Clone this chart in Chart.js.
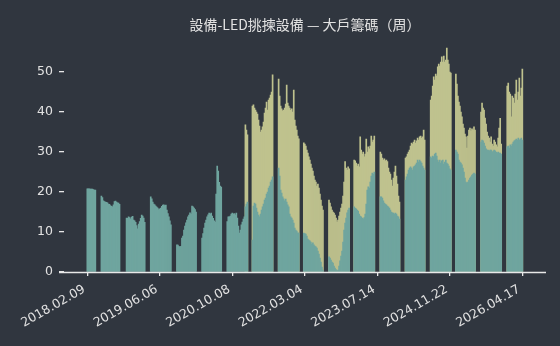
<!DOCTYPE html>
<html>
<head>
<meta charset="utf-8">
<script src="https://cdn.jsdelivr.net/npm/chart.js@4.4.1/dist/chart.umd.min.js"></script>
<style>
html,body{margin:0;padding:0;background:#30363f;}
#wrap{width:560px;height:346px;}
</style>
</head>
<body>
<div id="wrap"><canvas id="c" width="560" height="346"></canvas></div>
<script>
// ---- data ----
const chartTitle = '設備-LED挑揀設備 — 大戶籌碼（周）';
const tickLabels = ['2018.02.09','2019.06.06','2020.10.08','2022.03.04','2023.07.14','2024.11.22','2026.04.17'];
const tickIndex = [0, 72, 144, 216, 288, 360, 432];
const yTicks = [0, 10, 20, 30, 40, 50];

// weekly share of the largest holders (teal), one value per week, null = no data
const bigHolders = [
  20.8,20.8,20.8,20.7,20.7,20.7,20.6,20.5,20.5,
  null,null,null,null,null,
  19.0,18.6,17.8,17.6,17.5,17.4,17.3,17.0,16.9,16.6,16.4,16.3,16.8,17.6,17.7,17.5,17.3,17.2,16.9,
  null,null,null,null,null,null,
  13.5,13.4,13.8,13.6,13.3,13.7,13.9,13.0,12.8,12.4,11.6,10.8,12.0,12.6,13.4,14.2,14.0,13.5,12.4,
  null,null,null,null,null,
  18.8,18.3,17.5,17.0,16.8,16.5,16.2,16.0,15.6,15.8,16.0,16.4,16.7,16.8,16.6,16.7,15.5,14.6,13.8,12.8,11.8,
  null,null,null,null,null,
  6.8,6.7,6.4,6.2,6.4,8.5,9.0,10.5,11.5,12.3,13.0,13.8,14.2,14.8,14.5,16.5,16.3,16.0,15.6,15.0,
  null,null,null,null,null,
  8.5,9.6,11.0,12.2,13.0,13.8,14.3,14.7,14.5,14.7,14.0,13.4,12.8,12.5,19.5,26.5,25.2,22.4,21.5,21.2,
  null,null,null,null,null,
  12.6,13.8,13.8,14.0,14.5,14.7,14.5,14.6,14.3,14.7,13.5,11.5,9.7,10.5,11.8,12.5,13.2,13.8,16.3,17.0,17.5,
  null,null,null,null,
  8.0,16.5,17.2,17.0,16.0,15.0,14.2,13.8,14.5,15.5,16.3,17.0,18.0,18.5,19.5,20.0,21.0,21.5,22.5,23.0,23.8,
  null,null,null,null,null,
  26.0,24.0,20.5,19.7,18.8,18.3,17.8,18.2,17.5,16.8,16.3,14.5,13.8,13.5,13.0,12.2,11.0,10.5,10.2,9.8,9.7,
  null,null,null,null,
  9.7,9.6,9.5,9.0,8.2,8.0,7.8,7.5,7.0,7.3,6.8,6.5,6.3,6.0,5.2,4.5,3.5,2.5,1.2,0.5,
  null,null,null,null,null,
  3.8,3.5,3.0,2.5,2.2,1.5,1.0,0.6,0.3,0.5,1.5,2.8,4.0,5.2,7.5,10.5,12.2,13.5,14.8,15.5,16.0,
  null,null,null,null,
  16.3,16.0,15.8,15.5,15.2,14.5,14.0,13.8,13.5,13.3,13.6,14.5,17.0,20.5,21.3,21.0,22.5,24.0,24.7,24.5,25.0,
  null,null,null,null,null,
  18.8,18.8,18.5,17.8,17.2,17.0,16.8,16.5,16.3,16.0,15.5,15.0,14.8,14.7,14.5,14.7,14.5,14.0,13.8,13.2,
  null,null,null,null,null,
  23.0,23.8,24.5,25.5,26.0,26.3,26.0,25.5,26.3,26.5,26.8,27.2,28.0,27.5,28.0,27.6,27.2,26.5,26.0,25.5,
  null,null,null,null,null,
  28.8,28.5,29.0,28.8,29.5,29.7,29.0,28.0,27.5,28.0,27.2,27.8,28.0,27.0,27.5,28.0,27.2,27.0,26.5,25.8,25.5,
  null,null,null,null,
  30.5,30.0,29.5,28.0,27.5,27.2,26.8,26.0,25.0,23.5,22.5,22.2,22.5,23.0,23.5,23.8,24.2,24.5,24.7,24.5,
  null,null,null,null,null,
  32.5,33.0,32.8,32.2,31.5,30.8,30.5,30.5,30.2,30.5,30.5,30.0,30.2,30.5,30.3,30.0,29.8,30.0,29.7,29.7,29.5,
  null,null,null,null,null,
  31.3,31.5,31.0,31.8,31.5,32.0,32.5,32.8,33.0,33.2,33.0,33.5,33.0,33.2,33.5,33.0
];

// weekly share of the wider big-holder group (khaki), starting at week index 157
const wideStart = 157;
const wideHolders = [
  36.8,35.5,34.3,
  null,null,null,null,
  41.5,41.8,41.0,40.5,40.0,39.5,38.0,36.5,35.0,35.5,36.3,37.5,39.7,41.0,42.5,40.5,43.0,43.5,44.2,45.0,49.3,
  null,null,null,null,null,
  48.2,44.0,41.5,40.8,40.3,40.5,41.0,42.0,46.7,42.2,41.5,41.0,40.5,40.8,40.0,45.5,38.0,36.5,35.5,34.0,33.3,
  null,null,null,null,
  32.3,32.0,31.5,30.5,29.7,28.8,28.0,27.0,26.0,25.2,24.0,23.0,22.5,21.5,22.0,21.0,19.5,18.0,16.5,15.5,
  null,null,null,null,null,
  18.0,17.2,16.3,15.5,15.0,14.7,14.2,13.5,12.5,13.0,14.0,15.0,16.0,17.0,19.0,22.5,27.6,26.0,25.5,26.3,25.8,
  null,null,null,null,
  28.0,27.8,27.2,26.5,27.0,26.3,33.8,30.5,29.5,30.0,28.8,29.5,33.2,30.0,31.3,30.8,31.5,34.0,32.5,33.0,34.0,
  null,null,null,null,null,
  30.0,29.5,28.5,28.0,28.3,27.8,28.0,27.6,26.0,25.0,24.5,23.0,21.5,23.5,25.0,26.5,24.0,22.0,19.0,17.5,
  null,null,null,null,null,
  28.5,28.8,29.5,30.0,30.5,31.5,32.2,32.0,32.5,33.0,32.2,32.8,33.5,33.0,33.8,34.0,33.5,33.8,35.5,33.0,
  null,null,null,null,null,
  43.0,44.0,46.5,48.8,48.0,49.5,49.0,51.3,52.0,51.5,52.5,53.8,52.5,54.0,52.5,53.0,56.0,53.0,52.0,50.0,49.7,
  null,null,null,null,
  49.5,47.0,44.0,42.5,41.5,40.0,38.8,37.0,36.0,34.5,33.8,31.0,34.0,35.5,36.0,35.3,35.8,35.5,36.3,35.5,
  null,null,null,null,null,
  40.0,42.2,41.0,40.5,38.5,37.0,35.0,34.0,33.5,32.5,33.8,32.0,31.5,33.0,32.5,31.8,31.3,33.5,36.0,38.4,32.0,
  null,null,null,null,null,
  46.5,47.2,45.0,44.5,38.8,44.0,43.5,42.2,44.5,48.0,43.0,45.0,48.5,44.0,46.0,50.7
];

// ---- styling ----
const TEAL = '#6fa59f';
const KHAKI = '#bfc28e';
const TEXT = '#e2e2e2';
const AXIS = '#e8e8e8';

const tealPts = bigHolders.map((v, i) => ({x: i, y: v}));
const khakiPts = wideHolders.map((v, j) => ({x: j + wideStart, y: v}));

const baseLine = {
  id: 'baseLine',
  afterDraw(chart) {
    const {ctx, chartArea} = chart;
    ctx.save();
    ctx.strokeStyle = AXIS;
    ctx.lineWidth = 1.3;
    ctx.beginPath();
    ctx.moveTo(chartArea.left - 5, chartArea.bottom + 0.5);
    ctx.lineTo(chartArea.right, chartArea.bottom + 0.5);
    ctx.stroke();
    ctx.restore();
  }
};

new Chart(document.getElementById('c'), {
  type: 'bar',
  data: {
    datasets: [
      {label: 'big', data: tealPts, backgroundColor: TEAL, borderWidth: 0,
       barPercentage: 1, categoryPercentage: 1, grouped: false},
      {label: 'wide', data: khakiPts, backgroundColor: KHAKI, borderWidth: 0,
       barPercentage: 1, categoryPercentage: 1, grouped: false}
    ]
  },
  options: {
    responsive: false,
    devicePixelRatio: 1,
    animation: false,
    layout: {padding: {left: 0, right: 14, top: 0, bottom: 0}},
    plugins: {
      legend: {display: false},
      tooltip: {enabled: false},
      title: {
        display: true,
        text: chartTitle,
        color: TEXT,
        fullSize: false,
        font: {family: "'Noto Sans CJK TC', 'Noto Sans CJK SC', sans-serif", size: 14, weight: 'normal'},
        padding: {top: 16, bottom: 4}
      }
    },
    scales: {
      x: {
        type: 'linear',
        offset: false,
        min: -23.14,
        max: 455.5,
        afterBuildTicks: (s) => { s.ticks = tickIndex.map(v => ({value: v})); },
        afterFit: (s) => { s.height = 74; },
        ticks: {
          autoSkip: false,
          maxRotation: 30,
          minRotation: 30,
          padding: 6,
          labelOffset: -3,
          color: TEXT,
          font: {family: "'DejaVu Sans', sans-serif", size: 12.5},
          callback: (v) => { const k = tickIndex.indexOf(v); return k >= 0 ? tickLabels[k] : ''; }
        },
        grid: {display: true, drawOnChartArea: false, drawTicks: true, tickLength: 4, color: AXIS, lineWidth: 1.3, offset: false},
        border: {display: false}
      },
      y: {
        type: 'linear',
        min: 0,
        max: 58.8,
        afterBuildTicks: (s) => { s.ticks = yTicks.map(v => ({value: v})); },
        afterFit: (s) => { s.width = 64; },
        ticks: {
          padding: 6,
          color: TEXT,
          font: {family: "'DejaVu Sans', sans-serif", size: 12.5}
        },
        grid: {display: true, drawOnChartArea: false, drawTicks: true, tickLength: 5, color: AXIS, lineWidth: 1.3},
        border: {display: false}
      }
    }
  },
  plugins: [baseLine]
});
</script>
</body>
</html>
